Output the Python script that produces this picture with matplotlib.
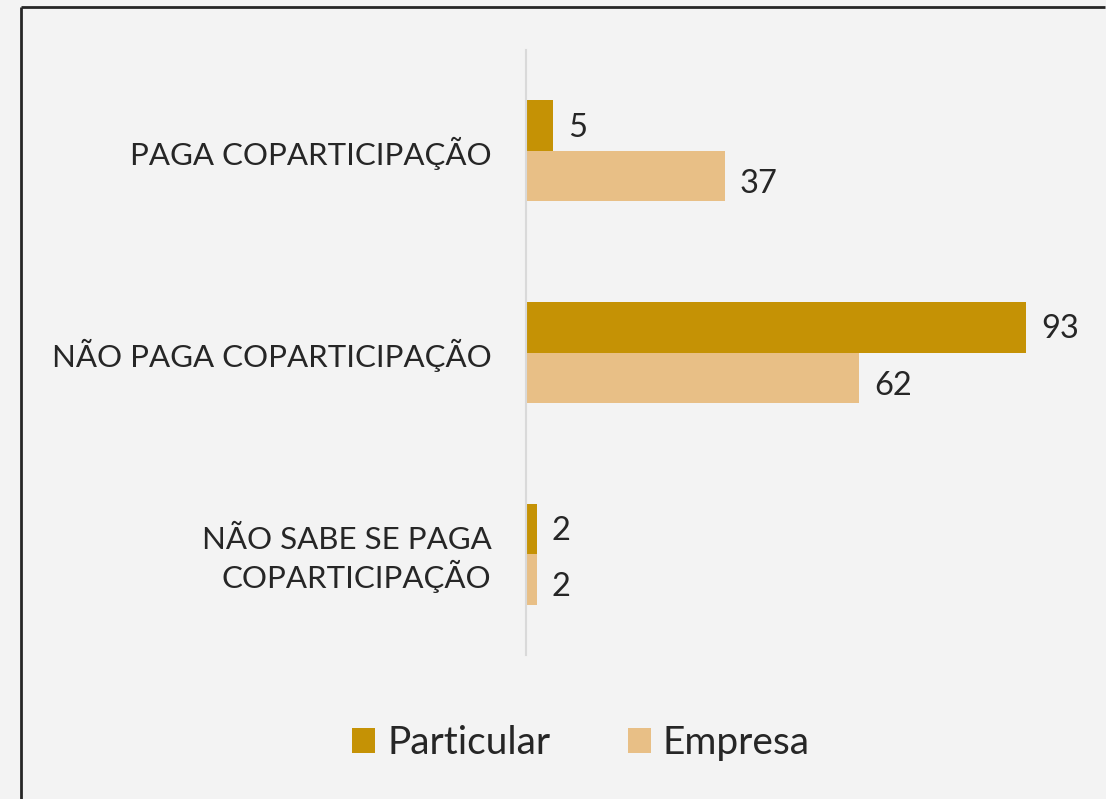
# Coparticipação: Particular vs Empresa
import numpy as np
import matplotlib.pyplot as plt
from matplotlib.lines import Line2D

plt.rcParams['font.family'] = ['Lato', 'DejaVu Sans']

categories = ["PAGA COPARTICIPAÇÃO", "NÃO PAGA COPARTICIPAÇÃO", "NÃO SABE SE PAGA\nCOPARTICIPAÇÃO"]
particular = [5, 93, 2]
empresa = [37, 62, 2]
series_names = ["Particular", "Empresa"]

bg = "#f3f3f3"
c_part = "#c59205"
c_emp = "#e8bf86"
txt = "#262626"

W, H = 1106, 799
fig = plt.figure(figsize=(W / 100, H / 100), dpi=100, facecolor=bg)

# axes placed in pixel coords: zero line at x=526, 5.376 px per unit
x0, ppu = 526, 5.376
y_top, y_bot = 50, 655
ax = fig.add_axes([x0 / W, (H - y_bot) / H, 100 * ppu / W, (y_bot - y_top) / H])
ax.set_facecolor(bg)

y = np.arange(len(categories))
h = 0.25
ax.barh(y - h / 2, particular, height=h, color=c_part, label=series_names[0])
ax.barh(y + h / 2, empresa, height=h, color=c_emp, label=series_names[1])

for yi, v in zip(y, particular):
    ax.text(v + 2.8, yi - h / 2 + 0.01, str(v), va="center", ha="left", fontsize=23.5, color=txt)
for yi, v in zip(y, empresa):
    ax.text(v + 2.8, yi + h / 2 + 0.04, str(v), va="center", ha="left", fontsize=23.5, color=txt)

ax.set_xlim(0, 100)
ax.set_ylim(len(categories) - 0.5, -0.5)
ax.set_yticks(y)
ax.set_yticklabels(categories, fontsize=22.5, color=txt, ha="right")
ax.tick_params(axis="y", length=0, pad=25)
ax.set_xticks([])
for s in ["top", "right", "bottom"]:
    ax.spines[s].set_visible(False)
ax.spines["left"].set_color("#d9d9d9")
ax.spines["left"].set_linewidth(1.5)

leg = fig.legend(loc="center", bbox_to_anchor=(581 / W, 1 - 743 / H), ncol=2, frameon=False,
                 fontsize=28, handlelength=0.6, handleheight=0.6, columnspacing=2.0,
                 handletextpad=0.3)
for t in leg.get_texts():
    t.set_color(txt)

# outer border of the chart area (only top and left edges fall inside the image)
bx, by = 20.5 / W, 1 - 6.5 / H
fig.add_artist(Line2D([bx, bx], [0.0, by], transform=fig.transFigure,
                      color="#262626", linewidth=2, solid_capstyle="butt"))
fig.add_artist(Line2D([bx, 0.999], [by, by], transform=fig.transFigure,
                      color="#262626", linewidth=2, solid_capstyle="butt"))

fig.savefig("out.png", dpi=100, facecolor=bg)
